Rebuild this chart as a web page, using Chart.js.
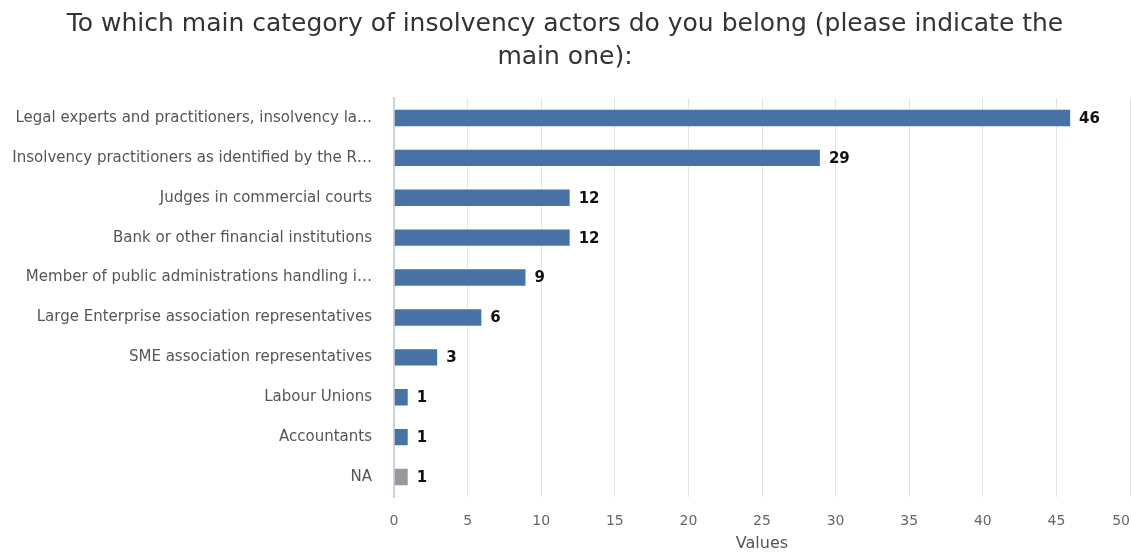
<!DOCTYPE html>
<html>
<head>
<meta charset="utf-8">
<script src="https://cdn.jsdelivr.net/npm/chart.js@4"></script>
<style>
  html, body { margin: 0; padding: 0; background: #fff; }
  #wrap { width: 1132px; height: 553px; }
</style>
</head>
<body>
<div id="wrap"><canvas id="bar_chart" width="1132" height="553"></canvas></div>
<script>
// 数据
var categories = [
    'Legal experts and practitioners, insolvency la…',
    'Insolvency practitioners as identified by the R…',
    'Judges in commercial courts',
    'Bank or other financial institutions',
    'Member of public administrations handling i…',
    'Large Enterprise association representatives',
    'SME association representatives',
    'Labour Unions',
    'Accountants',
    'NA'
];
var values = [46, 29, 12, 12, 9, 6, 3, 1, 1, 1];
var xTicks = [0, 5, 10, 15, 20, 25, 30, 35, 40, 45, 50];

var blue = '#4672a6';
var grey = '#999999';
var barColors = categories.map(function (c) { return c === 'NA' ? grey : blue });
var tickFont = '14px "DejaVu Sans", sans-serif';

// 数值标签 + 最后一个刻度（贴右边，不被裁掉）
var valueLabels = {
    id: 'valueLabels',
    afterDatasetsDraw: function (chart) {
        var ctx = chart.ctx;
        var meta = chart.getDatasetMeta(0);
        ctx.save();
        ctx.font = 'bold 15px "DejaVu Sans", sans-serif';
        ctx.fillStyle = '#111';
        ctx.textAlign = 'left';
        ctx.textBaseline = 'middle';
        meta.data.forEach(function (bar, i) {
            ctx.fillText(String(values[i]), bar.x + 8, bar.y + 1);
        });
        var x = chart.scales.x;
        var last = xTicks[xTicks.length - 1];
        ctx.font = tickFont;
        ctx.fillStyle = '#666';
        ctx.textAlign = 'right';
        ctx.fillText(String(last), Math.min(x.getPixelForValue(last) + 8, chart.width - 2), x.top + 16 + 8);
        ctx.restore();
    }
};

var chart = new Chart(document.getElementById('bar_chart').getContext('2d'), {
    type: 'bar',
    data: {
        labels: categories,
        datasets: [{
            data: values,
            backgroundColor: barColors,
            borderColor: 'rgba(255,255,255,0.35)',
            borderWidth: 1,
            barPercentage: 0.46,
            categoryPercentage: 1
        }]
    },
    options: {
        indexAxis: 'y',
        responsive: false,
        animation: false,
        layout: { padding: { left: 0, right: 2, top: 4, bottom: 0 } },
        plugins: {
            legend: { display: false },
            tooltip: { enabled: false },
            title: {
                display: true,
                text: ['To which main category of insolvency actors do you belong (please indicate the', 'main one):'],
                color: '#333',
                font: { family: '"DejaVu Sans", sans-serif', size: 25, weight: 'normal', lineHeight: 1.32 },
                padding: { top: 4, bottom: 24 }
            }
        },
        scales: {
            x: {
                min: 0,
                max: 50,
                afterBuildTicks: function (scale) {
                    scale.ticks = xTicks.map(function (v) { return { value: v } });
                },
                afterFit: function (scale) {
                    scale.paddingRight = 0;
                    scale.paddingLeft = 0;
                    scale.height = 56;
                },
                grid: { color: '#e4e4e4', drawTicks: false, lineWidth: 1 },
                border: { display: false },
                ticks: {
                    color: '#666',
                    padding: 16,
                    maxRotation: 0,
                    font: { family: '"DejaVu Sans", sans-serif', size: 14 },
                    callback: function (v) {
                        return v === xTicks[xTicks.length - 1] ? '' : v;
                    }
                },
                title: {
                    display: true,
                    text: 'Values',
                    color: '#555',
                    padding: { top: 0, bottom: 0 },
                    font: { family: '"DejaVu Sans", sans-serif', size: 16 }
                }
            },
            y: {
                afterFit: function (scale) {
                    scale.width = 394;
                },
                grid: { display: false, drawTicks: false },
                border: { display: true, color: '#c9d3e6', width: 2 },
                ticks: {
                    color: '#555',
                    padding: 22,
                    font: { family: '"DejaVu Sans", sans-serif', size: 15 }
                }
            }
        }
    },
    plugins: [valueLabels]
});
</script>
</body>
</html>
